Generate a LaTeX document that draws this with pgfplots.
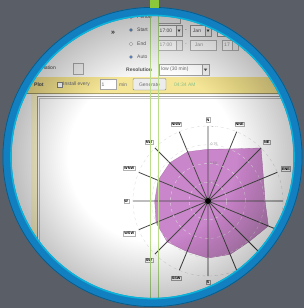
\documentclass[border=0pt]{standalone}
\usepackage{fontspec}
\setmainfont{Liberation Sans}
\usepackage{pgfplots}
\pgfplotsset{compat=1.18}
\usepgfplotslibrary{polar}
\definecolor{bg}{RGB}{90,94,102}
\definecolor{ringblue}{RGB}{18,128,192}
\definecolor{rose}{RGB}{202,134,202}
\definecolor{barY}{RGB}{244,230,150}
\definecolor{grn}{RGB}{140,200,60}
\definecolor{formtxt}{RGB}{110,110,115}
\definecolor{radio}{RGB}{40,110,190}
\begin{document}
\begin{tikzpicture}[x=1pt,y=-1pt]
\useasboundingbox (0,0) rectangle (304,308);
\fill[bg] (0,0) rectangle (304,308);
\coordinate (C) at (152.5,157);
\coordinate (RC) at (208,201);
\begin{scope}
\clip (C) circle (143pt);
\fill[white!93!gray] (0,0) rectangle (304,308);
% plot panel
\fill[white] (37,95) rectangle (304,308);
\fill[barY!45] (31,93) rectangle (37,308);
\draw[gray!70, line width=0.6pt] (37,308) -- (37,96) -- (304,96);
\draw[gray!40, line width=0.4pt] (39,308) -- (39,98) -- (304,98);
\fill[barY] (0,77) rectangle (304,93);
\draw[barY!70!black, line width=0.3pt] (0,93) -- (304,93);
% yellow bar contents
\begin{scope}[every node/.style={font=\fontsize{5}{6}\selectfont, inner sep=0pt, text=formtxt}]
\node[anchor=west, font=\fontsize{5}{6}\selectfont\bfseries, text=black!70] at (34,84.5) {Plot};
\draw[gray, fill=white, line width=0.3pt] (57,82) rectangle (62,87);
\node[anchor=west] at (63,84.5) {Install every};
\draw[gray!70, fill=white, line width=0.3pt] (100,79.5) rectangle (116,89.5);
\node at (103,84.5) {1};
\node[anchor=west] at (119,84.5) {min};
\draw[gray, fill=gray!15, line width=0.4pt, rounded corners=1pt] (133,78.5) rectangle (166,90);
\node at (149.5,84.5) {Generate};
\node[anchor=west, text=green!30!gray!70] at (174,84.5) {04:34 AM};
% form
\node[font=\fontsize{7}{8}\selectfont\bfseries, text=black!75] at (113,33) {\guillemotright};
\foreach \yy/\lab/\on in {17/Period/0,30/Start/1,44/End/0,57/Auto/1}{
  \draw[gray!60, fill=white, line width=0.3pt] (131,\yy) circle (1.8pt);
  \ifnum\on=1 \fill[radio] (131,\yy) circle (1.1pt); \fi
  \node[anchor=west] at (137,\yy) {\lab};
}
\draw[gray!60, fill=gray!10, line width=0.3pt] (158,12) rectangle (180,23);
% start row
\draw[gray!70, fill=white, line width=0.3pt] (158,25) rectangle (176,36);
\node at (166,30.5) {17:00};
\draw[gray!70, fill=gray!10, line width=0.3pt] (176,25) rectangle (182,36);
\fill[black!70] (177.5,29.5) -- (180.5,29.5) -- (179,32) -- cycle;
\node at (186,30.5) {-};
\draw[gray!70, fill=white, line width=0.3pt] (190,25) rectangle (205,36);
\node at (197,30.5) {Jan};
\draw[gray!70, fill=gray!10, line width=0.3pt] (205,25) rectangle (211,36);
\fill[black!70] (206.5,29.5) -- (209.5,29.5) -- (208,32) -- cycle;
\draw[gray!70, fill=white, line width=0.3pt] (217,25) rectangle (232,36);
% end row
\draw[gray!50, fill=white, line width=0.3pt] (158,40) rectangle (176,50);
\node[text=formtxt!60] at (166,45) {17:00};
\draw[gray!50, fill=gray!8, line width=0.3pt] (176,40) rectangle (182,50);
\node[text=formtxt!60] at (186,45) {-};
\draw[gray!50, fill=white, line width=0.3pt] (190,40) rectangle (216,50);
\node[text=formtxt!60] at (199,45) {Jan};
\draw[gray!50, fill=white, line width=0.3pt] (222,40) rectangle (232,50);
\node[text=formtxt!60] at (227,45) {17};
\draw[gray!50, fill=gray!8, line width=0.3pt] (232,40) rectangle (238,50);
\draw[gray!50, fill=white, line width=0.3pt] (244,40) rectangle (262,50);
% resolution
\node[anchor=west, font=\fontsize{5}{6}\selectfont\bfseries, text=black!65] at (126,70) {Resolution};
\draw[gray!70, fill=white, line width=0.3pt] (159,64) rectangle (202,75);
\node[anchor=west] at (161,69.5) {low (30 min)};
\draw[gray!70, fill=gray!10, line width=0.3pt] (202,64) rectangle (209,75);
\fill[black!70] (203.8,68.5) -- (207.2,68.5) -- (205.5,71) -- cycle;
\node[anchor=east, text=black!60] at (56,68) {Animation};
\draw[gray!60, fill=gray!10, line width=0.3pt] (73,63) rectangle (83,74);
\end{scope}
% wind rose
\begin{polaraxis}[
  at={(RC)}, anchor=center,
  scale only axis, width=150pt, height=150pt,
  ymin=0, ymax=1,
  xtick={0,22.5,...,337.5},
  xticklabels={E,ENE,NE,NNE,N,NNW,NW,WNW,W,WSW,SW,SSW,S,SSE,SE,ESE},
  ytick={0.25,0.5,0.75,1},
  yticklabels={},
  xmajorgrids, ymajorgrids,
  x grid style={black!72, line width=0.8pt},
  y grid style={white!72!gray, dashed, line width=0.35pt},
  axis line style={draw=none},
  major tick length=0pt,
  axis on top,
  xticklabel shift=4pt,
  xticklabel style={font=\fontsize{3.8}{4}\selectfont\bfseries, draw=gray!60, fill=white, inner sep=0.8pt, line width=0.3pt},
]
\addplot[fill=rose, draw=rose!85!black, line width=0.3pt] coordinates {
 (0,0.76) (22.5,0.80) (45,1.00) (67.5,0.75) (90,0.69) (112.5,0.71)
 (135,0.72) (157.5,0.72) (180,0.71) (202.5,0.75) (225,0.77) (247.5,0.73)
 (270,0.76) (292.5,0.77) (315,0.77) (337.5,0.87) (360,0.76)};
\addplot[only marks, mark=*, mark size=2.6pt, black] coordinates {(0,0)};
\foreach \v in {0.25,0.50,0.75,1.00}{
  \edef\tmp{\noexpand\node[anchor=west, font=\noexpand\fontsize{3.5}{4}\noexpand\selectfont, text=gray, inner sep=0.5pt] at (axis cs:88,\v) {\v};}
  \tmp
}
\end{polaraxis}
% green guide lines
\draw[grn!60, line width=0.35pt] (150.5,0) -- (150.5,308);
\draw[grn!60, line width=0.35pt] (158,0) -- (158,308);
% vignette (smooth)
\foreach \r in {141,139,...,85}{
  \fill[black, opacity=0.008, even odd rule] (C) circle (143pt) (C) circle (\r pt);
}
\end{scope}
% ring
\draw[ringblue, line width=9pt] (C) circle (145.5pt);
\draw[ringblue!60!cyan, line width=1.5pt] (C) circle (141.6pt);
\draw[ringblue!70!black, line width=0.8pt] (C) circle (149.6pt);
% top green bar
\fill[grn] (150,0) rectangle (158.5,8);
\end{tikzpicture}
\end{document}
